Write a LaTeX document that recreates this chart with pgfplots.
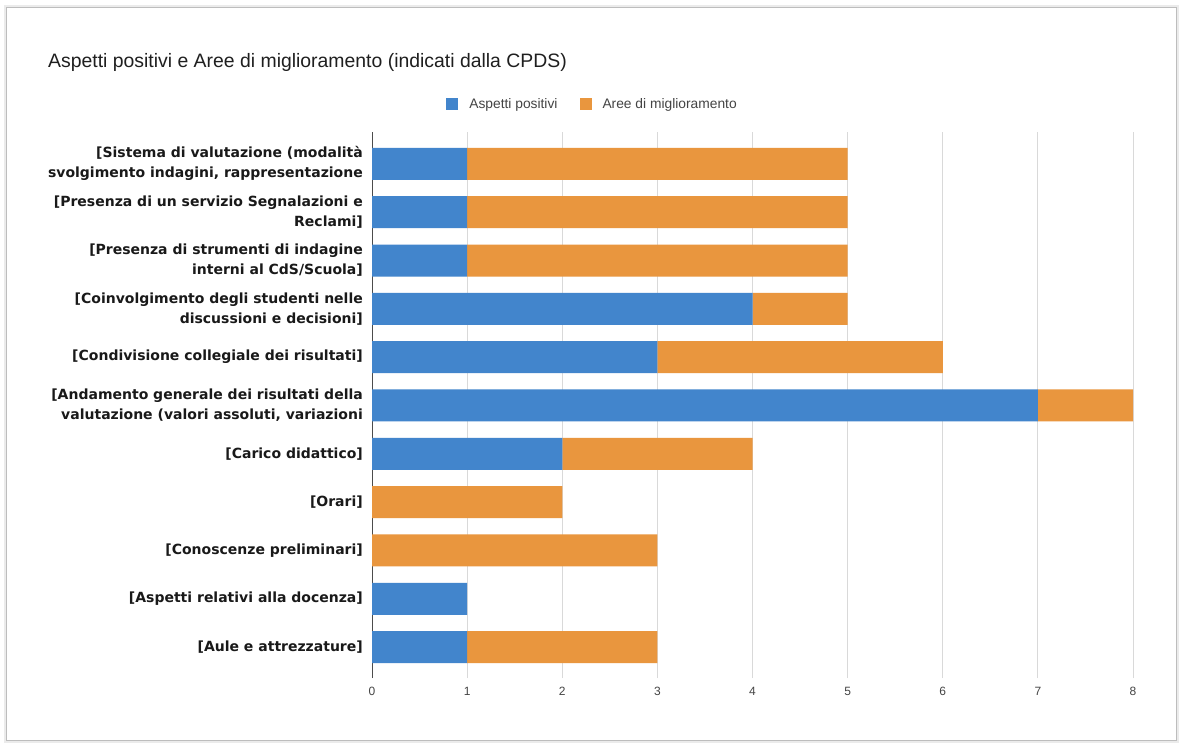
\documentclass[border=0pt]{standalone}
\usepackage{pgfplots}
\pgfplotsset{compat=1.18}
\usepackage{fontspec}
\setmainfont{Liberation Sans}
\newfontfamily\catfont{DejaVu Sans}
\definecolor{posblue}{HTML}{4285CC}
\definecolor{areaorange}{HTML}{E9963E}
\definecolor{gridgray}{HTML}{D9D9D9}
\definecolor{ticktext}{HTML}{444444}
\definecolor{framegray}{HTML}{BDBDBD}

\begin{document}
\begin{tikzpicture}[x=1pt,y=1pt]
\useasboundingbox (0,0) rectangle (1180,742);
\fill[white] (0,0) rectangle (1180,742);
% card frame with a soft shadow
\draw[black!8, line width=3pt] (5,1) rectangle (1177,735);
\draw[framegray, line width=1pt] (6,1.5) rectangle (1176,734);

% title
\node[anchor=west, inner sep=0pt, text=black!88] at (48,680)
  {\fontsize{19.4}{23}\selectfont Aspetti positivi e Aree di miglioramento (indicati dalla CPDS)};

\begin{axis}[
  at={(372pt,64pt)}, anchor=south west,
  scale only axis, width=761pt, height=546pt,
  xbar stacked, bar width=32pt,
  xmin=0, xmax=8, ymin=-0.64, ymax=10.66,
  axis lines*=left,
  axis line style={-},
  x axis line style={draw=none},
  y axis line style={draw=black!70, line width=0.8pt},
  xmajorgrids, grid style={gridgray, line width=0.8pt},
  xtick={0,1,...,8},
  ytick={0,1,...,10},
  major tick length=0pt,
  tick style={draw=none},
  /pgf/number format/assume math mode=true,
  xticklabel style={font=\fontsize{12}{14}\selectfont, text=ticktext, inner sep=0pt, yshift=-9pt},
  yticklabel style={font=\catfont\bfseries\fontsize{14}{20}\selectfont, text=black!90,
    align=right, inner sep=0pt, xshift=-9pt},
  yticklabels={
    {[Aule e attrezzature]},
    {[Aspetti relativi alla docenza]},
    {[Conoscenze preliminari]},
    {[Orari]},
    {[Carico didattico]},
    {[Andamento generale dei risultati della\\valutazione (valori assoluti, variazioni},
    {[Condivisione collegiale dei risultati]},
    {[Coinvolgimento degli studenti nelle\\discussioni e decisioni]},
    {[Presenza di strumenti di indagine\\interni al CdS/Scuola]},
    {[Presenza di un servizio Segnalazioni e\\Reclami]},
    {[Sistema di valutazione (modalità\\svolgimento indagini, rappresentazione},
  },
  legend columns=2,
  legend style={at={(0.2898,1.0513)}, anchor=center, draw=none, fill=none,
    font=\fontsize{13.8}{16}\selectfont, text=ticktext,
    /tikz/every even column/.append style={column sep=20pt},
    inner sep=0pt},
  legend image code/.code={\fill[#1] (0pt,-6pt) rectangle (12pt,6pt); \path (21pt,0pt);},
]
% Aspetti positivi
\addplot[fill=posblue, draw=none] coordinates {
  (1,10) (1,9) (1,8) (4,7) (3,6) (7,5) (2,4) (0,3) (0,2) (1,1) (1,0)};
% Aree di miglioramento
\addplot[fill=areaorange, draw=none] coordinates {
  (4,10) (4,9) (4,8) (1,7) (3,6) (1,5) (2,4) (2,3) (3,2) (0,1) (2,0)};
\legend{Aspetti positivi, Aree di miglioramento}
\end{axis}
\end{tikzpicture}
\end{document}
